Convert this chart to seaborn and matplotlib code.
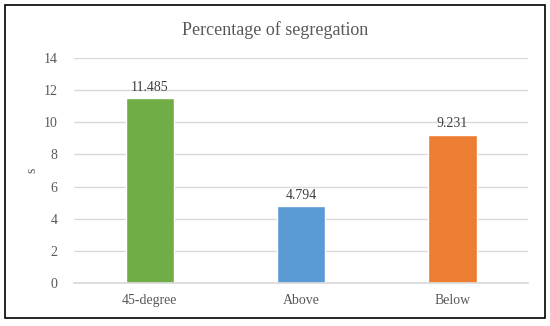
import matplotlib
matplotlib.use("Agg")
import matplotlib.pyplot as plt
import seaborn as sns
import pandas as pd
from matplotlib.patches import Rectangle

categories = ["45-degree", "Above", "Below"]
values = [11.485, 4.794, 9.231]
colors = ["#70AD47", "#5B9BD5", "#ED7D31"]

df = pd.DataFrame({"position": categories, "value": values})

sns.set_theme(style="white")
plt.rcParams["font.family"] = ["Liberation Serif", "DejaVu Serif"]
text_color = "#595959"

fig = plt.figure(figsize=(5.5, 3.26), dpi=100)
ax = fig.add_axes([0.135, 0.132, 0.825, 0.69])

sns.barplot(data=df, x="position", y="value", hue="position",
            palette=colors, width=0.32, saturation=1, legend=False, ax=ax)

for cont in ax.containers:
    ax.bar_label(cont, fmt="%.3f", padding=3, fontsize=10, color="#404040")

ax.set_ylim(0, 14)
ax.set_yticks(range(0, 15, 2))
ax.yaxis.grid(True, color="#D9D9D9", linewidth=1)
ax.set_axisbelow(True)
for side in ["top", "right", "left"]:
    ax.spines[side].set_visible(False)
ax.spines["bottom"].set_color("#D9D9D9")
ax.tick_params(axis="both", length=0, labelsize=10, colors=text_color, pad=12)
ax.tick_params(axis="x", pad=8)
ax.set_xlabel("")
ax.set_ylabel("s", fontsize=10, color=text_color, labelpad=4)

fig.suptitle("Percentage of segregation", y=0.935, fontsize=13, color=text_color)

fig.patches.append(Rectangle((0.009, 0.025), 0.982, 0.96, transform=fig.transFigure,
                             fill=False, edgecolor="black", linewidth=1.2))

fig.savefig("out.png", dpi=100)
